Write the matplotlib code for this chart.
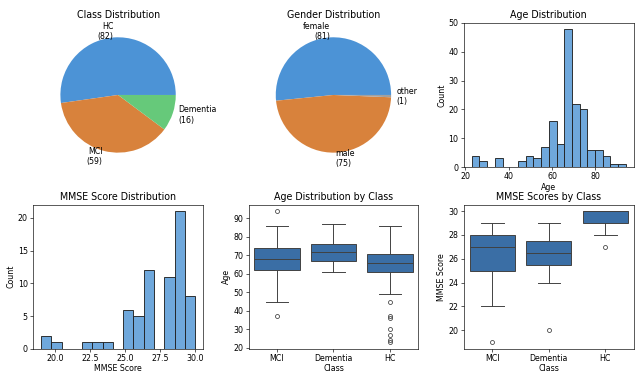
import numpy as np
import matplotlib
matplotlib.use('Agg')
import matplotlib.pyplot as plt
from matplotlib.ticker import MultipleLocator

# pie data
class_labels = ['HC', 'MCI', 'Dementia']
class_counts = [82, 59, 16]
gender_labels = ['female', 'male', 'other']
gender_counts = [81, 75, 1]

# age histogram (20 bins)
age_range = (23.0, 94.0)
age_counts = [4, 2, 0, 3, 0, 0, 2, 4, 3, 7, 16, 8, 48, 22, 20, 6, 6, 4, 1, 1]

# mmse histogram (15 bins)
mmse_range = (19.0, 30.0)
mmse_counts = [2, 1, 0, 0, 1, 1, 1, 0, 6, 5, 12, 0, 11, 21, 8]

# box plot summaries, order MCI, Dementia, HC
box_classes = ['MCI', 'Dementia', 'HC']
age_q1 = [62, 67, 61]
age_med = [68, 72, 66]
age_q3 = [74, 76, 71]
age_whislo = [45, 61, 49]
age_whishi = [86, 87, 86]
age_fliers = [[94, 37], [], [45, 37, 36, 30, 27, 24, 23]]

mmse_q1 = [25, 25.5, 29]
mmse_med = [27, 26.5, 30]
mmse_q3 = [28, 27.5, 30]
mmse_whislo = [22, 24, 28]
mmse_whishi = [29, 29, 30]
mmse_fliers = [[19], [20], [27]]

pie_colors = ['#4c93d6', '#d8823c', '#66c97a']
gender_colors = ['#4c93d6', '#d8823c', '#a0a0a0']
hist_color = '#6fa8dc'
box_color = '#3a6ea5'
line_color = '#404040'

plt.rcParams['xtick.major.pad'] = 2.5
plt.rcParams['axes.labelpad'] = 2.5

W = 11.2
fig, axes = plt.subplots(2, 3, figsize=(W, W * 375 / 640))


def pie_labels(labels, counts):
    return ['%s\n(%d)' % (l, c) for l, c in zip(labels, counts)]


ax = axes[0, 0]
ax.pie(class_counts, labels=pie_labels(class_labels, class_counts), colors=pie_colors)
ax.set_title('Class Distribution')

ax = axes[0, 1]
ax.pie(gender_counts, labels=pie_labels(gender_labels, gender_counts), colors=gender_colors)
ax.set_title('Gender Distribution')


def hist_bars(ax, counts, rng):
    edges = np.linspace(rng[0], rng[1], len(counts) + 1)
    ax.bar(edges[:-1], counts, width=np.diff(edges), align='edge',
           color=hist_color, edgecolor='#1f1f1f', linewidth=1.1)


ax = axes[0, 2]
hist_bars(ax, age_counts, age_range)
ax.set_title('Age Distribution')
ax.set_xlabel('Age')
ax.set_ylabel('Count')
ax.set_ylim(0, 50)

ax = axes[1, 0]
hist_bars(ax, mmse_counts, mmse_range)
ax.set_title('MMSE Score Distribution')
ax.set_xlabel('MMSE Score')
ax.set_ylabel('Count')
ax.xaxis.set_major_locator(MultipleLocator(2.5))
ax.yaxis.set_major_locator(MultipleLocator(5))


def box_panel(ax, q1, med, q3, lo, hi, fl):
    stats = []
    for i in range(len(box_classes)):
        stats.append({'q1': q1[i], 'med': med[i], 'q3': q3[i], 'whislo': lo[i],
                      'whishi': hi[i], 'fliers': fl[i], 'label': box_classes[i]})
    ax.bxp(stats, positions=range(len(stats)), widths=0.8, patch_artist=True,
           boxprops=dict(facecolor=box_color, edgecolor=line_color, linewidth=1.2),
           medianprops=dict(color=line_color, linewidth=1.2),
           whiskerprops=dict(color=line_color, linewidth=1.2),
           capprops=dict(color=line_color, linewidth=1.2),
           flierprops=dict(marker='o', markerfacecolor='none', markeredgecolor=line_color,
                           markersize=5))
    ax.set_xlim(-0.5, len(stats) - 0.5)
    ax.set_xlabel('Class')


ax = axes[1, 1]
box_panel(ax, age_q1, age_med, age_q3, age_whislo, age_whishi, age_fliers)
ax.set_title('Age Distribution by Class')
ax.set_ylabel('Age')

ax = axes[1, 2]
box_panel(ax, mmse_q1, mmse_med, mmse_q3, mmse_whislo, mmse_whishi, mmse_fliers)
ax.set_title('MMSE Scores by Class')
ax.set_ylabel('MMSE Score')

plt.subplots_adjust(left=0.052, right=0.99, top=0.939, bottom=0.07,
                    wspace=0.27, hspace=0.26)
plt.savefig('out.png', dpi=640 / W)
